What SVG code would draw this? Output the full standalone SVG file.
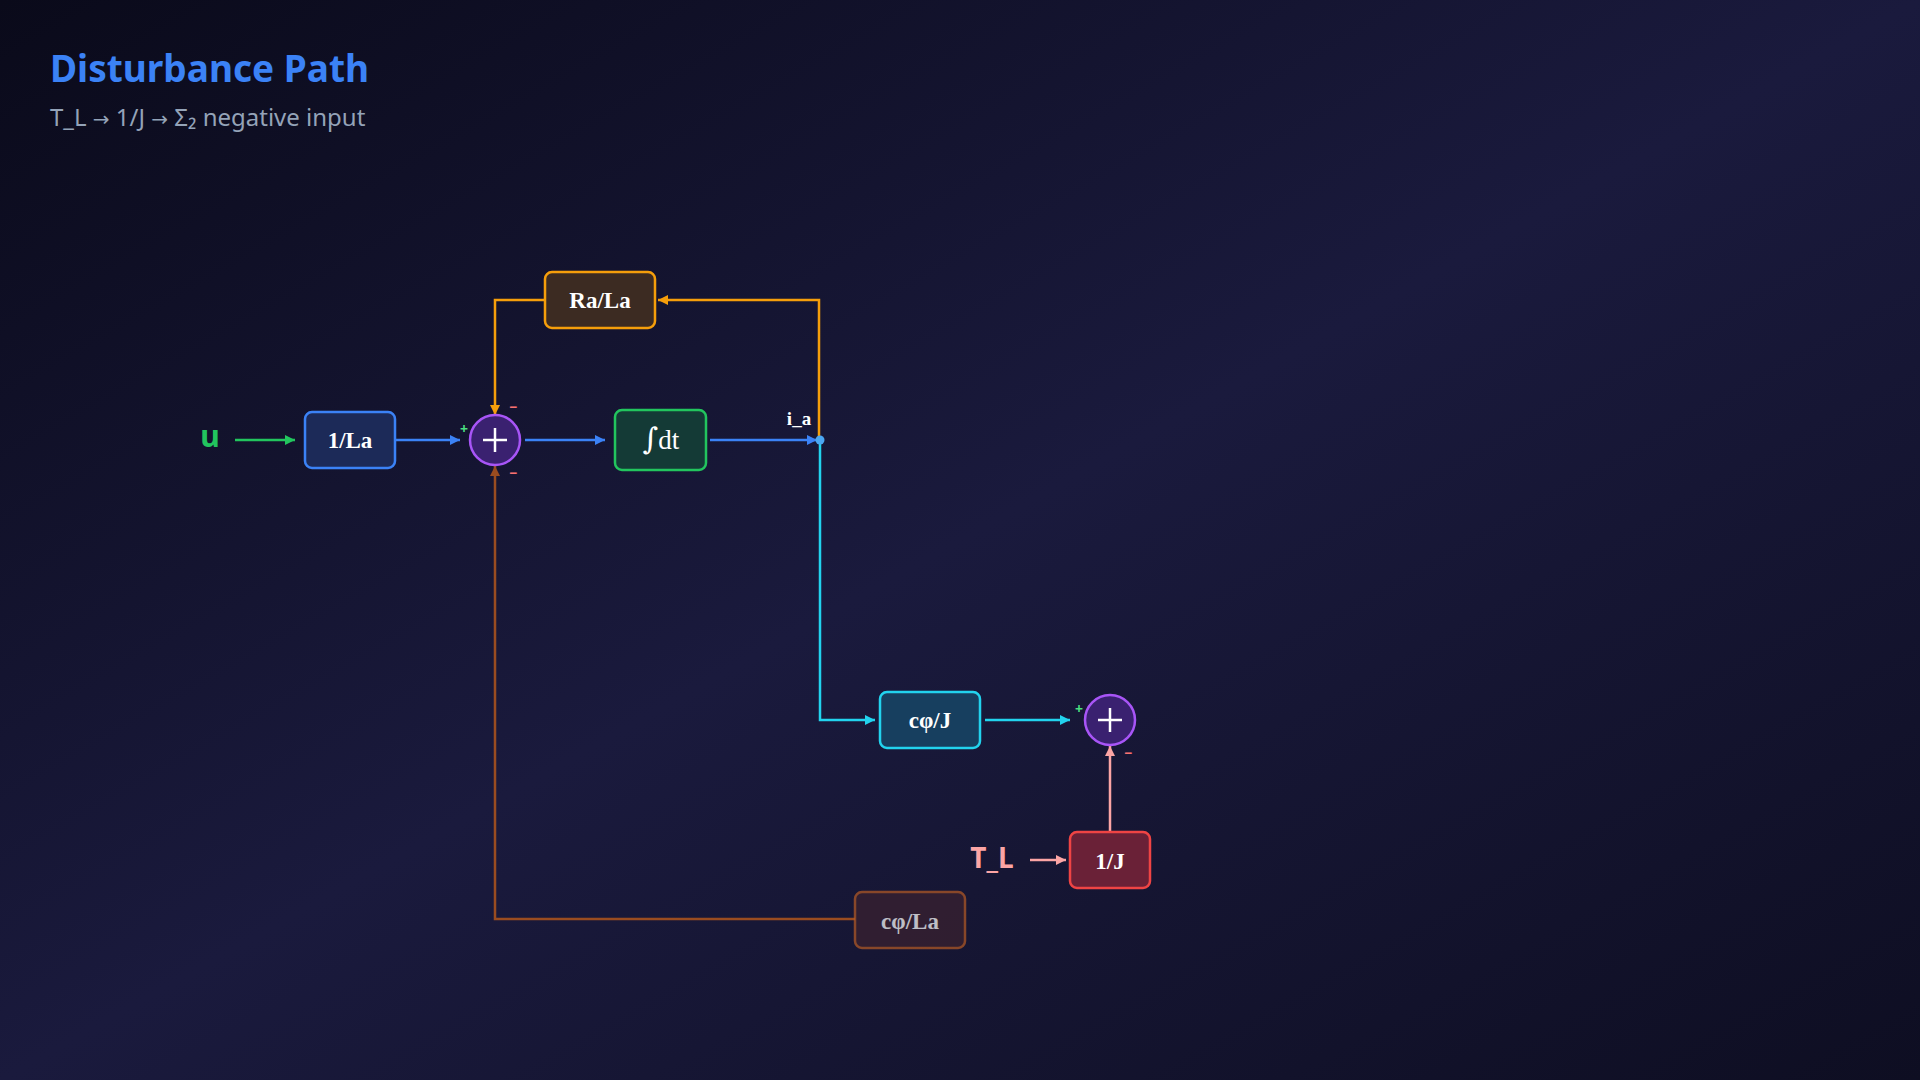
<svg xmlns="http://www.w3.org/2000/svg" width="1920" height="1080" viewBox="0 0 1920 1080">
<defs>
<linearGradient id="bg" x1="0" y1="0" x2="1" y2="1">
<stop offset="0" stop-color="#0a0a1a"/>
<stop offset="0.5" stop-color="#1a1a3d"/>
<stop offset="1" stop-color="#0e0e22"/>
</linearGradient>
<marker id="aGreen" viewBox="0 0 10 10" refX="10" refY="5" markerWidth="10" markerHeight="10" markerUnits="userSpaceOnUse" orient="auto"><path d="M0,0 L10,5 L0,10 z" fill="#22c55e"/></marker>
<marker id="aBlue" viewBox="0 0 10 10" refX="10" refY="5" markerWidth="10" markerHeight="10" markerUnits="userSpaceOnUse" orient="auto"><path d="M0,0 L10,5 L0,10 z" fill="#3b82f6"/></marker>
<marker id="aOrange" viewBox="0 0 10 10" refX="10" refY="5" markerWidth="10" markerHeight="10" markerUnits="userSpaceOnUse" orient="auto"><path d="M0,0 L10,5 L0,10 z" fill="#f59e0b"/></marker>
<marker id="aCyan" viewBox="0 0 10 10" refX="10" refY="5" markerWidth="10" markerHeight="10" markerUnits="userSpaceOnUse" orient="auto"><path d="M0,0 L10,5 L0,10 z" fill="#22d3ee"/></marker>
<marker id="aPink" viewBox="0 0 10 10" refX="10" refY="5" markerWidth="10" markerHeight="10" markerUnits="userSpaceOnUse" orient="auto"><path d="M0,0 L10,5 L0,10 z" fill="#fca5a5"/></marker>
<marker id="aBrown" viewBox="0 0 10 10" refX="10" refY="5" markerWidth="10" markerHeight="10" markerUnits="userSpaceOnUse" orient="auto"><path d="M0,0 L10,5 L0,10 z" fill="#9a4c20"/></marker>
</defs>
<style>
.box{stroke-width:2.5}
.lbl{font-family:"Liberation Serif","Times New Roman",serif;font-weight:bold;font-size:23px;fill:#ffffff;text-anchor:middle}
.sum{fill:#3a2170;stroke:#a855f7;stroke-width:2.5}
.plus{stroke:#ffffff;stroke-width:2.5}
.conn{fill:none;stroke-width:2.5}
.sgn{font-family:"Noto Sans","Liberation Sans",sans-serif;font-weight:bold;font-size:14px;text-anchor:middle}
.pos{fill:#4ade80}
.neg{fill:#f87171}
.sig{font-family:"Noto Sans","Liberation Sans",sans-serif;font-weight:bold;text-anchor:middle}
.arr{font-family:"DejaVu Sans",sans-serif;font-size:20px}
</style>
<rect x="0" y="0" width="1920" height="1080" fill="url(#bg)"/>
<g id="title">
<text x="50" y="82" font-family="'Noto Sans','Open Sans',sans-serif" font-weight="bold" font-size="37" fill="#3b82f6">Disturbance Path</text>
<text x="50" y="126" font-family="'Noto Sans','Open Sans',sans-serif" font-size="24" fill="#94a3b8">T_L <tspan class="arr">→</tspan> 1/J <tspan class="arr">→</tspan> Σ₂ negative input</text>
</g>
<g id="connectors">
<line class="conn" x1="235" y1="440" x2="295" y2="440" stroke="#22c55e" marker-end="url(#aGreen)"/>
<line class="conn" x1="396" y1="440" x2="460" y2="440" stroke="#3b82f6" marker-end="url(#aBlue)"/>
<line class="conn" x1="525" y1="440" x2="605" y2="440" stroke="#3b82f6" marker-end="url(#aBlue)"/>
<line class="conn" x1="710" y1="440" x2="817" y2="440" stroke="#3b82f6" marker-end="url(#aBlue)"/>
<path class="conn" d="M819,440 V300 H658" stroke="#f59e0b" marker-end="url(#aOrange)"/>
<path class="conn" d="M545,300 H495 V415" stroke="#f59e0b" marker-end="url(#aOrange)"/>
<path class="conn" d="M820,443 V720 H875" stroke="#22d3ee" marker-end="url(#aCyan)"/>
<line class="conn" x1="985" y1="720" x2="1070" y2="720" stroke="#22d3ee" marker-end="url(#aCyan)"/>
<line class="conn" x1="1030" y1="860" x2="1066" y2="860" stroke="#fca5a5" marker-end="url(#aPink)"/>
<line class="conn" x1="1110" y1="832" x2="1110" y2="746" stroke="#fca5a5" marker-end="url(#aPink)"/>
<path class="conn" d="M855,919 H495 V466" stroke="#9a4c20" stroke-width="2" marker-end="url(#aBrown)"/>
<circle cx="820" cy="440" r="4.5" fill="#4ba7f2"/>
</g>
<g id="sig-u"><text class="sig" x="210" y="447" font-size="30" fill="#22c55e">u</text></g>
<g id="sig-TL"><text class="sig" x="992" y="868" font-size="28" fill="#fca5a5">T_L</text></g>
<g id="sig-ia"><text x="799" y="425" font-family="'Liberation Serif','Times New Roman',serif" font-weight="bold" font-size="19" fill="#ffffff" text-anchor="middle">i_a</text></g>
<g id="n-1La">
<rect class="box" x="305" y="412" width="90" height="56" rx="7" fill="#1c2a58" stroke="#3b82f6"/>
<text class="lbl" x="350" y="448">1/La</text>
</g>
<g id="n-RaLa">
<rect class="box" x="545" y="272" width="110" height="56" rx="7" fill="#3c2b22" stroke="#f59e0b"/>
<text class="lbl" x="600" y="308">Ra/La</text>
</g>
<g id="n-int">
<rect class="box" x="615" y="410" width="91" height="60" rx="7" fill="#143a36" stroke="#22c55e"/>
<text x="661" y="449" font-family="'Liberation Serif','Times New Roman',serif" font-size="27" fill="#ffffff" text-anchor="middle"><tspan font-family="'DejaVu Serif',serif" font-size="30">∫</tspan>dt</text>
</g>
<g id="n-sum1">
<circle class="sum" cx="495" cy="440" r="25"/>
<line class="plus" x1="483" y1="440" x2="507" y2="440"/>
<line class="plus" x1="495" y1="428" x2="495" y2="452"/>
<text class="sgn pos" x="464" y="434">+</text>
<text class="sgn neg" x="513" y="412">−</text>
<text class="sgn neg" x="513" y="478">−</text>
</g>
<g id="n-cphiJ">
<rect class="box" x="880" y="692" width="100" height="56" rx="7" fill="#173f5f" stroke="#22d3ee"/>
<text class="lbl" x="930" y="728">cφ/J</text>
</g>
<g id="n-sum2">
<circle class="sum" cx="1110" cy="720" r="25"/>
<line class="plus" x1="1098" y1="720" x2="1122" y2="720"/>
<line class="plus" x1="1110" y1="708" x2="1110" y2="732"/>
<text class="sgn pos" x="1079" y="714">+</text>
<text class="sgn neg" x="1128" y="758">−</text>
</g>
<g id="n-1J">
<rect class="box" x="1070" y="832" width="80" height="56" rx="7" fill="#6a2137" stroke="#ef4444"/>
<text class="lbl" x="1110" y="869">1/J</text>
</g>
<g id="n-cphiLa" opacity="0.72">
<rect class="box" x="855" y="892" width="110" height="56" rx="7" fill="#3a2230" stroke="#b45a25" stroke-width="2"/>
<text class="lbl" x="910" y="929" fill="#aeb2c2">cφ/La</text>
</g>
</svg>
